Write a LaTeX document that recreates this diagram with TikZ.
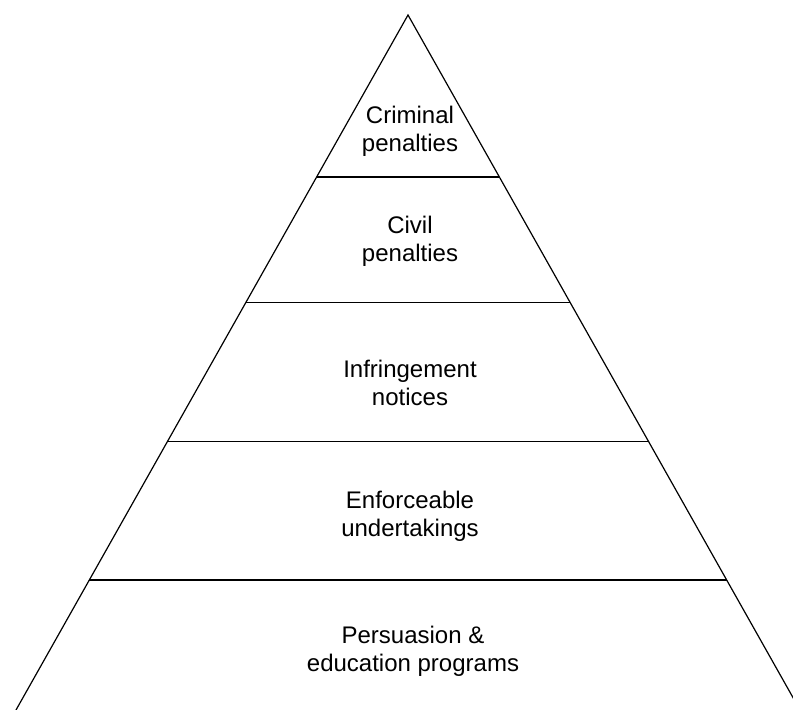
\documentclass[tikz,border=0pt]{standalone}
\usepackage{fontspec}
\setmainfont{Liberation Sans}
\usetikzlibrary{calc}
\tikzset{
  edge/.style={line width=.9pt,line join=miter},
  tier/.style={line width=.9pt},
  lbl/.style={font=\fontsize{18}{21}\selectfont,align=center,inner sep=0pt},
}
\begin{document}
\begin{tikzpicture}[x=.75pt,y=-.75pt]
  \useasboundingbox (0,0) rectangle (793,710);
  % outline
  \coordinate (A)  at (408,15);
  \coordinate (BL) at (16,710);
  \coordinate (BR) at (800,710);
  \draw[edge] (BL)--(A)--(BR);
  % tier boundaries
  \coordinate (L1) at ($(A)!.233!(BL)$);
  \coordinate (R1) at ($(A)!.233!(BR)$);
  \coordinate (L2) at ($(A)!.414!(BL)$);
  \coordinate (R2) at ($(A)!.414!(BR)$);
  \coordinate (L3) at ($(A)!.614!(BL)$);
  \coordinate (R3) at ($(A)!.614!(BR)$);
  \coordinate (L4) at ($(A)!.813!(BL)$);
  \coordinate (R4) at ($(A)!.813!(BR)$);
  \draw[tier] (L1)--(R1);
  \draw[tier] (L2)--(R2);
  \draw[tier] (L3)--(R3);
  \draw[tier] (L4)--(R4);
  % labels
  \node[lbl] (crim) at (410,131) {Criminal\\penalties};
  \node[lbl] (civ)  at (410,241) {Civil\\penalties};
  \node[lbl] (inf)  at (410,383) {Infringement\\notices};
  \node[lbl] (enf)  at (410,516) {Enforceable\\undertakings};
  \node[lbl] (pers) at (413,651) {Persuasion \&\\education programs};
\end{tikzpicture}
\end{document}
